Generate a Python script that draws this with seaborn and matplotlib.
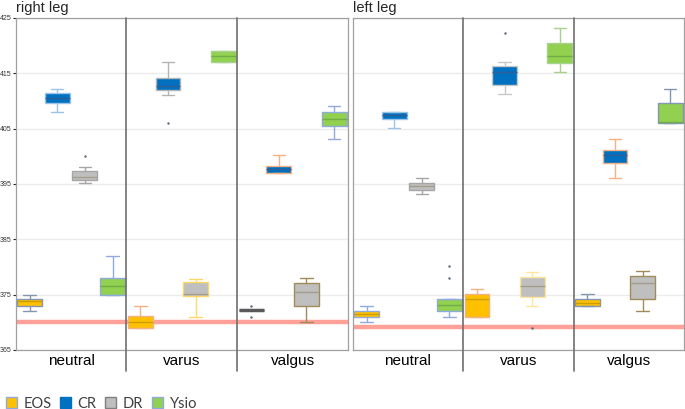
import pandas as pd
import matplotlib.pyplot as plt
from matplotlib.patches import Patch
import seaborn as sns

# Box summaries: [whisker low, Q1, median, Q3, whisker high]
positions = ['neutral', 'varus', 'valgus']
devices = ['EOS', 'CR', 'DR', 'Ysio']
legs = ['right leg', 'left leg']

right_eos = [[372.0, 372.9, 373.8, 374.2, 374.9], [368.9, 368.9, 370.0, 371.2, 372.9], [372.2, 372.2, 372.2, 372.2, 372.2]]
right_cr = [[408.1, 409.7, 410.6, 411.4, 412.1], [411.1, 411.9, 412.7, 414.1, 417.1], [397.0, 397.0, 397.7, 398.3, 400.2]]
right_dr = [[395.1, 395.7, 396.2, 397.4, 398.0], [370.9, 374.7, 375.1, 377.2, 377.9], [370.0, 372.9, 375.5, 377.1, 378.0]]
right_ysio = [[374.9, 374.9, 376.5, 378.0, 382.0], [417.1, 417.1, 418.2, 419.1, 419.1], [403.1, 405.5, 406.7, 408.1, 409.1]]

left_eos = [[370.1, 371.0, 371.5, 372.1, 373.0], [371.0, 371.0, 374.2, 375.1, 376.0], [373.0, 373.0, 373.5, 374.2, 375.1]]
left_cr = [[405.2, 406.8, 407.5, 408.1, 408.1], [411.2, 412.9, 415.2, 416.4, 417.1], [396.1, 398.8, 400.3, 401.2, 403.1]]
left_dr = [[393.2, 394.0, 394.6, 395.2, 396.1], [373.0, 374.5, 376.5, 378.1, 379.1], [372.0, 374.3, 377.1, 378.3, 379.2]]
left_ysio = [[371.0, 372.0, 373.1, 374.3, 374.3], [415.2, 416.9, 418.2, 420.5, 423.2], [406.1, 406.1, 406.2, 409.6, 412.2]]

# outliers: (position, device, value)
right_outliers = [('neutral', 'DR', 400.1), ('varus', 'CR', 406.1),
                  ('valgus', 'EOS', 372.9), ('valgus', 'EOS', 370.9)]
left_outliers = [('neutral', 'Ysio', 380.1), ('neutral', 'Ysio', 378.0),
                 ('varus', 'CR', 422.3), ('varus', 'DR', 369.0)]

# red reference line per leg
reference_line = [370.1, 369.2]

yticks = [365, 375, 385, 395, 405, 415, 425]

fill_colors = {'EOS': '#FFC000', 'CR': '#0070C0', 'DR': '#BFBFBF', 'Ysio': '#92D050'}
median_colors = {'EOS': '#C9A000', 'CR': '#2F5F97', 'DR': '#A39E8C', 'Ysio': '#6FAE47'}
edge_colors = {
    'right leg': {'EOS': ['#8497B0', '#F4B183', '#595959'],
                  'CR': ['#9DC3E6', '#B4B4B4', '#F4B183'],
                  'DR': ['#A6A6A6', '#FFD966', '#A08C5A'],
                  'Ysio': ['#8FAADC', '#A9D18E', '#8FAADC']},
    'left leg': {'EOS': ['#8FAADC', '#F4B183', '#8497B0'],
                 'CR': ['#9DC3E6', '#C8C8C8', '#F4B183'],
                 'DR': ['#A6A6A6', '#FFE699', '#A08C5A'],
                 'Ysio': ['#8FAADC', '#A9D18E', '#8497B0']},
}

leg_data = {
    'right leg': {'EOS': right_eos, 'CR': right_cr, 'DR': right_dr, 'Ysio': right_ysio},
    'left leg': {'EOS': left_eos, 'CR': left_cr, 'DR': left_dr, 'Ysio': left_ysio},
}
leg_outliers = {'right leg': right_outliers, 'left leg': left_outliers}

rows = []
for leg in legs:
    for dev in devices:
        for pos, summary in zip(positions, leg_data[leg][dev]):
            for v in summary:
                rows.append({'leg': leg, 'position': pos, 'device': dev, 'value': v})
df = pd.DataFrame(rows)

sns.set_style('white')
plt.rcParams['font.family'] = ['Liberation Sans', 'DejaVu Sans']

fig = plt.figure(figsize=(6.85, 4.09), dpi=100)
ax_r = fig.add_axes([0.0229, 0.1443, 0.4851, 0.8117])
ax_l = fig.add_axes([0.5150, 0.1443, 0.4835, 0.8117], sharey=ax_r)

box_width = 1.0
n_dev = len(devices)
for i, (leg, ax) in enumerate(zip(legs, [ax_r, ax_l])):
    sub = df[df['leg'] == leg]
    sns.boxplot(data=sub, x='position', y='value', hue='device',
                order=positions, hue_order=devices, palette=fill_colors,
                whis=(0, 100), width=box_width, gap=0.1, saturation=1,
                linewidth=1, fliersize=0, legend=False, ax=ax)

    # recolour each box individually
    for d, cont in enumerate(ax.containers):
        dev = devices[d]
        for p in range(len(positions)):
            ec = edge_colors[leg][dev][p]
            cont.boxes[p].set_edgecolor(ec)
            for w in cont.whiskers[2 * p:2 * p + 2]:
                w.set_color(ec)
            for c in cont.caps[2 * p:2 * p + 2]:
                c.set_color(ec)
            med = cont.medians[p]
            med.set_color(median_colors[dev])
            if ec == '#595959':
                med.set_color(ec)
                med.set_linewidth(2.5)

    # outliers at the dodged box positions
    out = pd.DataFrame(leg_outliers[leg], columns=['position', 'device', 'value'])
    out['x'] = [positions.index(p) + (devices.index(d) - (n_dev - 1) / 2) * box_width / n_dev
                for p, d in zip(out['position'], out['device'])]
    ax.scatter(out['x'], out['value'], s=3, color='#56697A', linewidths=0, zorder=5)

    ax.axhline(reference_line[i], color='#FF8F87', lw=3.2, alpha=0.85, zorder=1)

    for xs in [0.5, 1.5]:
        ax.axvline(xs, ymin=-0.063, ymax=1, color='#6E6E6E', lw=1.2, clip_on=False, zorder=6)

    ax.set_xlim(-0.5, 2.5)
    ax.set_ylim(365, 425)
    ax.set_yticks(yticks)
    ax.yaxis.grid(True, color='#ECECEC', lw=1)
    ax.set_axisbelow(True)
    ax.set_xlabel('')
    ax.set_ylabel('')
    ax.tick_params(axis='x', length=0, pad=3, labelsize=11, labelcolor='black')
    for s in ax.spines.values():
        s.set_color('#A0A0A0')
        s.set_linewidth(0.9)
    ax.set_title(leg, loc='left', fontsize=10.5, pad=4)

ax_r.tick_params(axis='y', labelsize=5, length=2, pad=1, left=True, labelcolor='#333333')
ax_l.tick_params(axis='y', labelleft=False, length=0)

handles = [Patch(facecolor='#FFC000', edgecolor='#8FAADC', label='EOS'),
           Patch(facecolor='#0070C0', edgecolor='#0070C0', label='CR'),
           Patch(facecolor='#BFBFBF', edgecolor='#7F7F7F', label='DR'),
           Patch(facecolor='#92D050', edgecolor='#8FAADC', label='Ysio')]
fig.legend(handles=handles, loc='lower left', bbox_to_anchor=(0.0, -0.018), ncol=4,
           frameon=False, handlelength=0.75, handleheight=0.75, handletextpad=0.45,
           columnspacing=0.6, borderpad=0.2, borderaxespad=0.2,
           prop={'family': 'Lato', 'size': 10.5}, labelcolor='#404040')

fig.savefig('out.png', dpi=100)
